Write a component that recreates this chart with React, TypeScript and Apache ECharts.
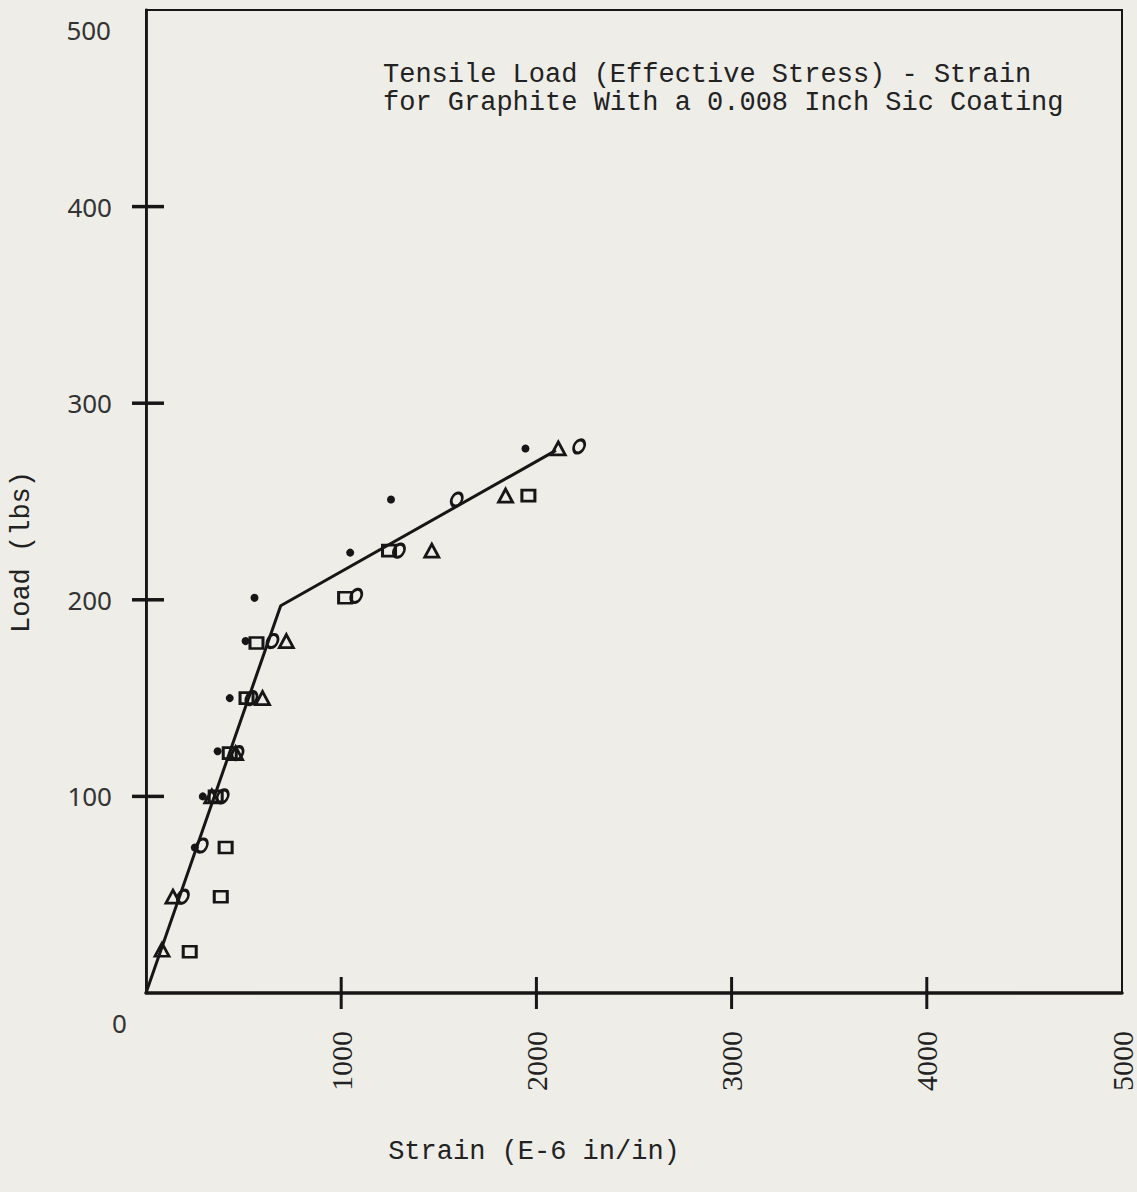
import React, { useEffect, useRef } from "react";
import * as echarts from "echarts";

const xTicks = [0, 1000, 2000, 3000, 4000, 5000];
const yTicks = [0, 100, 200, 300, 400, 500];

const dots: number[][] = [
  [250, 74], [291, 100], [367, 123], [429, 150], [510, 179], [556, 201],
  [1046, 224], [1255, 251], [1944, 277],
];
const squares: number[][] = [
  [224, 21], [383, 49], [408, 74], [357, 100], [429, 122], [515, 150],
  [566, 178], [1020, 201], [1245, 225], [1959, 253],
];
const ovals: number[][] = [
  [189, 49], [286, 75], [393, 100], [469, 122], [540, 150], [648, 179],
  [1077, 202], [1296, 225], [1592, 251], [2219, 278],
];
const triangles: number[][] = [
  [82, 22], [138, 49], [337, 100], [459, 122], [597, 150], [719, 179],
  [1464, 225], [1842, 253], [2112, 277],
];
const fitLine: number[][] = [
  [0, 0], [690, 197], [2100, 276],
];

const INK = "#161616";
const BG = "#eeede8";

export default function App() {
  const ref = useRef<HTMLDivElement>(null);
  useEffect(() => {
    document.body.style.margin = "0";
    document.body.style.background = BG;
    const chart = echarts.init(ref.current!, null, { renderer: "svg" });
    const hollow = (symbol: string, size: any, rotate = 0) => ({
      type: "scatter",
      symbol,
      symbolSize: size,
      symbolRotate: rotate,
      itemStyle: { color: "transparent", borderColor: INK, borderWidth: 2.8, opacity: 1 },
      z: 3,
    });
    const xMin = xTicks[0];
    const xMax = xTicks[xTicks.length - 1];
    const yMin = yTicks[0];
    const yMax = yTicks[yTicks.length - 1];
    const xTickMarks = xTicks.filter((v) => v > xMin && v < xMax).map((v) => [v, yMin]);
    const yTickMarks = yTicks.filter((v) => v > yMin && v < yMax).map((v) => [xMin, v]);
    chart.setOption({
      animation: false,
      backgroundColor: BG,
      title: {
        text: "Tensile Load (Effective Stress) - Strain\nfor Graphite With a 0.008 Inch Sic Coating",
        left: 383,
        top: 61,
        padding: 0,
        textStyle: {
          fontFamily: "Liberation Mono",
          fontSize: 27,
          fontWeight: "normal",
          color: "#222",
          lineHeight: 28,
        },
      },
      grid: {
        left: 146,
        right: 12,
        top: 10,
        bottom: 199,
        show: true,
        borderColor: INK,
        borderWidth: 2,
      },
      xAxis: {
        type: "value",
        min: xMin,
        max: xMax,
        interval: 1000,
        splitLine: { show: false },
        axisLine: { show: true, lineStyle: { color: INK, width: 3.5 } },
        axisTick: { show: false },
        axisLabel: {
          showMinLabel: false,
          rotate: 90,
          margin: 38,
          fontFamily: "Liberation Serif",
          fontSize: 30,
          color: "#222",
          formatter: (v: number) => String(v),
        },
        name: "Strain (E-6 in/in)",
        nameLocation: "middle",
        nameGap: 145,
        nameTextStyle: {
          fontFamily: "Liberation Mono",
          fontSize: 27,
          color: "#222",
          padding: [0, 200, 0, 0],
        },
      },
      yAxis: {
        type: "value",
        min: yMin,
        max: yMax,
        interval: 100,
        splitLine: { show: false },
        axisLine: { show: true, lineStyle: { color: INK, width: 2.8 } },
        axisTick: { show: false },
        axisLabel: {
          showMinLabel: false,
          showMaxLabel: false,
          margin: 34,
          fontFamily: "Noto Sans",
          fontSize: 26,
          color: "#333",
          formatter: (v: number) => String(v),
        },
      },
      graphic: [
        {
          type: "text",
          left: 112,
          top: 1010,
          style: { text: "0", fontFamily: "Noto Sans", fontSize: 26, fill: "#333" },
        },
        {
          type: "text",
          x: 111,
          y: 30,
          style: {
            text: "500",
            fontFamily: "Noto Sans",
            fontSize: 26,
            fill: "#333",
            align: "right",
            verticalAlign: "middle",
          },
        },
        {
          type: "text",
          x: 22,
          y: 552,
          rotation: Math.PI / 2,
          style: {
            text: "Load (lbs)",
            fontFamily: "Liberation Mono",
            fontSize: 27,
            fill: "#222",
            align: "center",
            verticalAlign: "middle",
          },
        },
      ],
      series: [
        {
          type: "scatter",
          data: xTickMarks,
          symbol: "rect",
          symbolSize: [3, 32],
          clip: false,
          itemStyle: { color: INK, opacity: 1 },
          silent: true,
          z: 4,
        },
        {
          type: "scatter",
          data: yTickMarks,
          symbol: "rect",
          symbolSize: [32, 3.5],
          symbolOffset: [2, 0],
          clip: false,
          itemStyle: { color: INK, opacity: 1 },
          silent: true,
          z: 4,
        },
        {
          type: "line",
          data: fitLine,
          showSymbol: false,
          symbol: "none",
          lineStyle: { color: INK, width: 3 },
          z: 2,
        },
        {
          type: "scatter",
          data: dots,
          symbol: "circle",
          symbolSize: 8,
          itemStyle: { color: INK, opacity: 1 },
          z: 3,
        },
        { ...hollow("rect", [13, 11]), data: squares },
        { ...hollow("circle", [10, 14], -30), data: ovals },
        { ...hollow("triangle", [14, 13]), data: triangles },
      ],
    });
    return () => chart.dispose();
  }, []);
  return (
    <div
      ref={ref}
      style={{ position: "fixed", left: 0, top: 0, width: 1137, height: 1192, background: BG }}
    />
  );
}
